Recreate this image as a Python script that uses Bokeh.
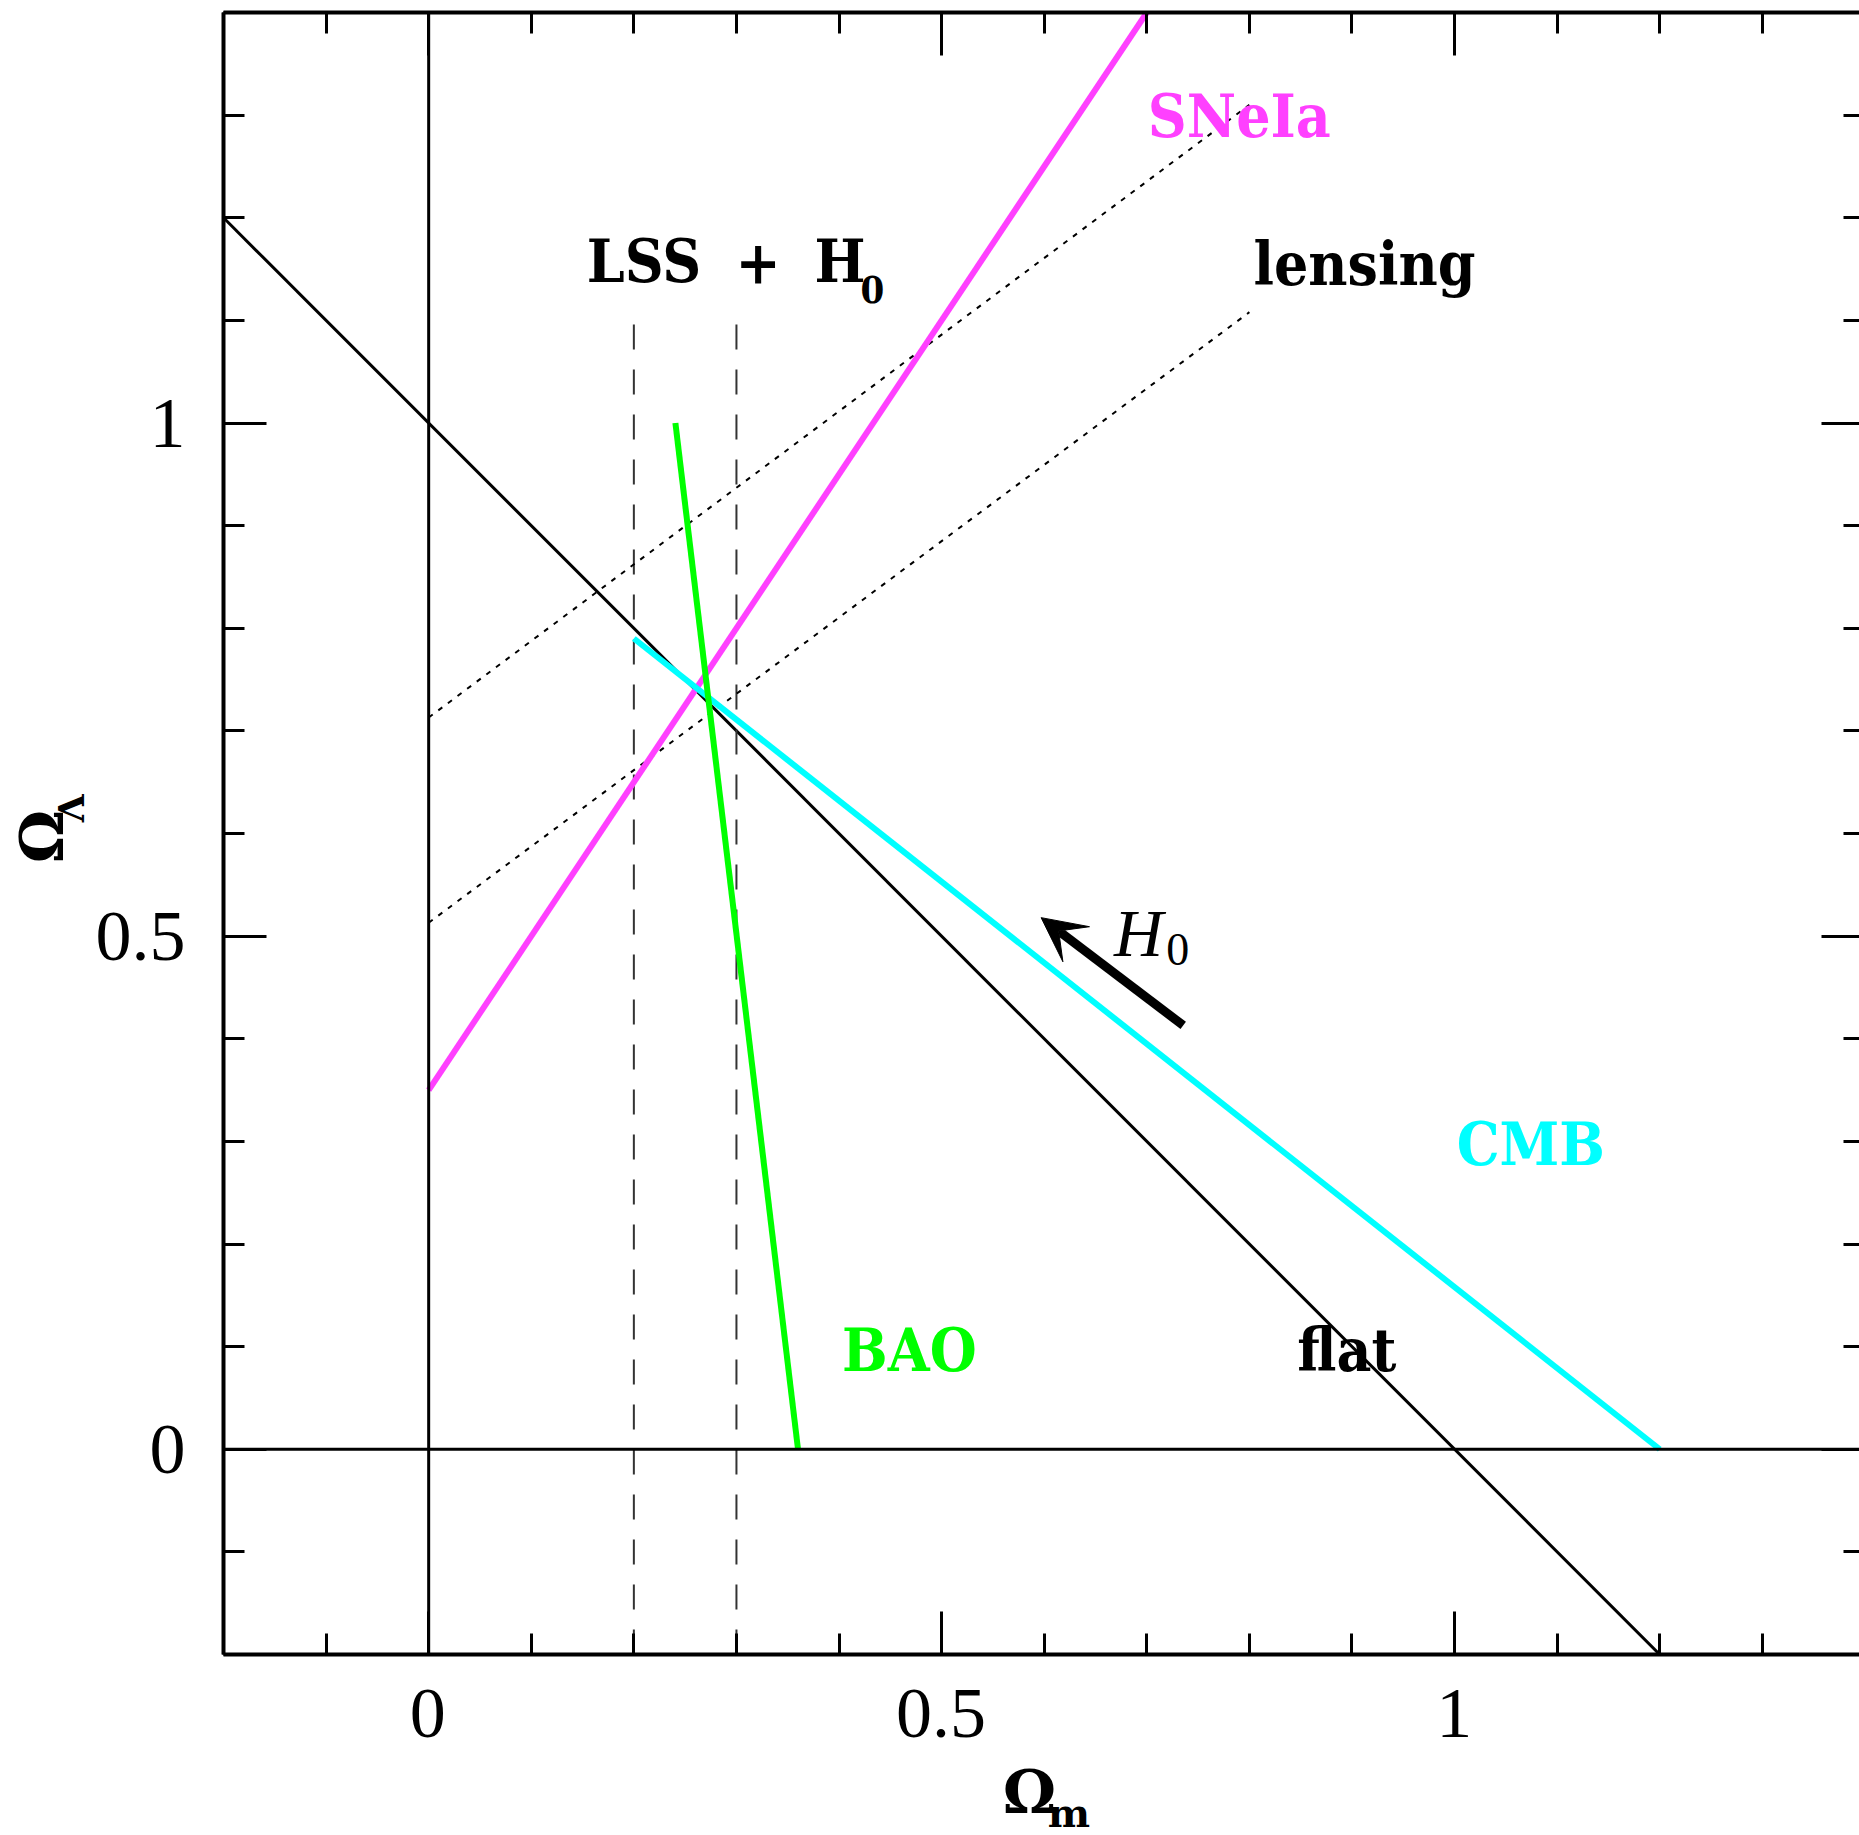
import math
from bokeh.plotting import figure
from bokeh.layouts import row, column
from bokeh.models import (LinearAxis, SingleIntervalTicker, Span, Label, Arrow, VeeHead, Range1d)
from bokeh.embed import file_html
from bokeh.resources import INLINE

# ---- data ----
x_lim = (-0.2, 1.3947)
y_lim = (-0.2, 1.4)

flat_x = [-0.2, 1.2]
flat_y = [1.2, -0.2]

sne_x = [0.0, 0.7]
sne_y = [0.35, 1.4]

bao_x = [0.2405, 0.36]
bao_y = [1.0, 0.0]

cmb_x = [0.2, 1.2]
cmb_y = [0.79, 0.0]

lens_up_x = [0.0, 0.8]
lens_up_y = [0.713, 1.31]
lens_lo_x = [0.0, 0.8]
lens_lo_y = [0.513, 1.108]

lss_left_x = [0.2, 0.2]
lss_right_x = [0.3, 0.3]
lss_y = [-0.2, 1.1]

h0_arrow_start = (0.7355, 0.413)
h0_arrow_end = (0.597, 0.518)

major_interval = 0.5
minor_per_major = 5

LABEL_FONT = "DejaVu Serif Condensed"
TICK_FONT = "Liberation Serif"
BASE_SHIFT = 0.36  # em fraction to lift alphabetic-baseline labels

xr = Range1d(*x_lim)
yr = Range1d(*y_lim)

MAIN_H = 1658
p = figure(width=1767, height=MAIN_H, x_range=xr, y_range=yr,
           output_backend="svg", toolbar_location=None,
           min_border_left=130, min_border_right=0, min_border_top=12,
           min_border_bottom=4, background_fill_color="white",
           border_fill_color="white")
p.outline_line_color = None
p.xgrid.visible = False
p.ygrid.visible = False

def style_axis(ax, labels=True, line=True, major_in=43, minor_in=21):
    ax.ticker = SingleIntervalTicker(interval=major_interval, num_minor_ticks=minor_per_major)
    ax.axis_line_width = 4
    ax.axis_line_color = "black" if line else None
    ax.major_tick_in = major_in
    ax.major_tick_out = 0
    ax.minor_tick_in = minor_in
    ax.minor_tick_out = 0
    ax.major_tick_line_width = 3
    ax.minor_tick_line_width = 3
    ax.major_tick_line_color = "black"
    ax.minor_tick_line_color = "black"
    if labels:
        ax.major_label_text_font = TICK_FONT
        ax.major_label_text_font_size = "72px"
        ax.major_label_text_color = "black"
    else:
        ax.major_label_text_font_size = "0px"
        ax.major_label_standoff = 0
        ax.major_label_text_color = None

style_axis(p.xaxis[0], labels=False)
style_axis(p.yaxis[0])
p.yaxis[0].major_label_standoff = 38

top = LinearAxis()
style_axis(top, labels=False)
p.add_layout(top, "above")
right = LinearAxis()
style_axis(right, labels=False, line=False, major_in=38, minor_in=16)
p.add_layout(right, "right")

# reference lines
p.add_layout(Span(location=0, dimension="height", line_color="black", line_width=3))
p.add_layout(Span(location=0, dimension="width", line_color="black", line_width=3))

# flat
p.line(flat_x, flat_y, line_color="black", line_width=3)
# LSS + H0 dashed
p.line(lss_left_x, lss_y, line_color="#333333", line_width=2, line_dash="25 20")
p.line(lss_right_x, lss_y, line_color="#333333", line_width=2, line_dash="25 20")
# lensing dotted
p.line(lens_up_x, lens_up_y, line_color="black", line_width=2, line_dash="5 7")
p.line(lens_lo_x, lens_lo_y, line_color="black", line_width=2, line_dash="5 7")
# SNeIa, CMB, BAO
p.line(sne_x, sne_y, line_color="#ff40ff", line_width=6)
p.line(cmb_x, cmb_y, line_color="#00ffff", line_width=6)
p.line(bao_x, bao_y, line_color="#00ff00", line_width=6)

# arrow
p.add_layout(Arrow(end=VeeHead(size=44, fill_color="black", line_color="black"),
                   x_start=h0_arrow_start[0], y_start=h0_arrow_start[1],
                   x_end=h0_arrow_end[0], y_end=h0_arrow_end[1],
                   line_width=9, line_color="black"))

def lab(fig, x, y, text, color="black", size=60, font=LABEL_FONT, style="bold",
        angle=0.0, shift=BASE_SHIFT):
    off = shift * size
    kw = dict(x_offset=-off, y_offset=0) if angle else dict(x_offset=0, y_offset=off)
    fig.add_layout(Label(x=x, y=y, text=text, text_color=color, text_font=font,
                         text_font_size=f"{size}px", text_font_style=style,
                         text_align="left", text_baseline="alphabetic", angle=angle, **kw))

lab(p, 0.701, 1.278, "SNeIa", color="#ff40ff")
lab(p, 0.154, 1.137, "LSS")
lab(p, 0.299, 1.137, "+")
lab(p, 0.376, 1.137, "H")
lab(p, 0.421, 1.117, "0", size=38)
lab(p, 0.804, 1.134, "lensing")
lab(p, 1.002, 0.2765, "CMB", color="#00ffff")
lab(p, 0.403, 0.076, "BAO", color="#00ff00")
lab(p, 0.8466, 0.076, "flat")
# H0 near arrow
lab(p, 0.668, 0.483, "H", size=68, font=TICK_FONT, style="italic", shift=0.3)
lab(p, 0.719, 0.4735, "0", size=46, font=TICK_FONT, style="normal", shift=0.3)

# ---- side strips: left (y title) and bottom (x tick labels + x title) ----
def strip(width, height, x_range, y_range, x_axis_location=None, **borders):
    f = figure(width=width, height=height, x_range=x_range, y_range=y_range,
               output_backend="svg", toolbar_location=None,
               x_axis_location=x_axis_location, y_axis_location=None,
               background_fill_color="white", border_fill_color="white", **borders)
    f.outline_line_color = None
    f.xgrid.visible = False
    f.ygrid.visible = False
    return f

left = strip(92, MAIN_H, Range1d(0, 92), yr,
             min_border_left=0, min_border_right=0, min_border_top=12, min_border_bottom=4)
lab(left, 63, 0.571, "Ω", size=60, font="DejaVu Serif", angle=math.pi / 2)
lab(left, 83, 0.611, "Λ", size=36, font="DejaVu Serif", angle=math.pi / 2)

BOT_H = 1835 - MAIN_H
BOT_TOP = 80
bottom = strip(1859, BOT_H, xr, Range1d(0, BOT_H - BOT_TOP), x_axis_location="above",
               min_border_left=222, min_border_right=0, min_border_top=BOT_TOP,
               min_border_bottom=0)
bx = bottom.xaxis[0]
bx.ticker = SingleIntervalTicker(interval=major_interval, num_minor_ticks=minor_per_major)
bx.axis_line_color = None
bx.major_tick_in = 0
bx.major_tick_out = 0
bx.minor_tick_in = 0
bx.minor_tick_out = 0
bx.major_tick_line_color = None
bx.minor_tick_line_color = None
bx.major_label_text_font = TICK_FONT
bx.major_label_text_font_size = "72px"
bx.major_label_text_color = "black"
bx.major_label_standoff = 2

lab(bottom, 0.560, 22, "Ω", size=60, font="DejaVu Serif")
lab(bottom, 0.604, 9, "m", size=40, font="DejaVu Serif")

layout = column(row(left, p), bottom)
open("out.html", "w").write(file_html(layout, INLINE))
